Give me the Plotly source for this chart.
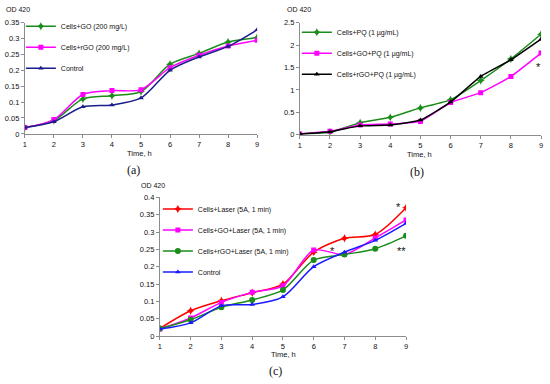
import plotly.graph_objects as go

hours = [1, 2, 3, 4, 5, 6, 7, 8, 9]

# Panel (a)
a_go = [0.020, 0.042, 0.110, 0.120, 0.133, 0.219, 0.253, 0.289, 0.303]
a_rgo = [0.020, 0.045, 0.124, 0.136, 0.139, 0.208, 0.247, 0.276, 0.294]
a_ctrl = [0.020, 0.038, 0.085, 0.091, 0.113, 0.200, 0.242, 0.275, 0.327]

# Panel (b)
b_pq = [0.02, 0.06, 0.27, 0.39, 0.60, 0.78, 1.21, 1.69, 2.24]
b_go_pq = [0.02, 0.08, 0.22, 0.24, 0.30, 0.72, 0.94, 1.30, 1.82]
b_rgo_pq = [0.02, 0.07, 0.20, 0.22, 0.33, 0.73, 1.30, 1.67, 2.13]

# Panel (c)
c_laser = [0.022, 0.073, 0.102, 0.125, 0.150, 0.242, 0.282, 0.293, 0.370]
c_go_laser = [0.020, 0.052, 0.097, 0.126, 0.145, 0.248, 0.235, 0.283, 0.335]
c_rgo_laser = [0.022, 0.047, 0.083, 0.104, 0.133, 0.219, 0.235, 0.252, 0.289]
c_ctrl = [0.020, 0.038, 0.087, 0.091, 0.113, 0.200, 0.242, 0.276, 0.325]

W, H = 550, 384
def px(x):
    return x / W
def py(y):
    return 1 - y / H

FONT = "Liberation Sans, Arial, sans-serif"
SERIF = "Liberation Serif, Times New Roman, serif"
TXT = "#111111"
GREEN = "#1a8c1a"
MAGENTA = "#ff00ff"
NAVY = "#1c1c8c"
BLACK = "#000000"
RED = "#ff0000"
BLUE = "#1a1aff"

fig = go.Figure()

def add(y, name, color, symbol, xa, ya, legend, msize=5, smoothing=0.8):
    fig.add_trace(go.Scatter(
        x=hours, y=y, name=name, mode="lines+markers",
        line=dict(color=color, width=1.5, shape="spline", smoothing=smoothing),
        marker=dict(symbol=symbol, size=msize, color=color),
        xaxis=xa, yaxis=ya, legend=legend, legendgroup=name,
    ))

add(a_go, "Cells+GO (200 mg/L)", GREEN, "star-diamond", "x", "y", "legend", 6)
add(a_rgo, "Cells+rGO (200 mg/L)", MAGENTA, "square", "x", "y", "legend", 5)
add(a_ctrl, "Control", NAVY, "triangle-up", "x", "y", "legend", 5)

add(b_pq, "Cells+PQ (1 µg/mL)", GREEN, "star-diamond", "x2", "y2", "legend2", 6, 0.4)
add(b_go_pq, "Cells+GO+PQ (1 µg/mL)", MAGENTA, "square", "x2", "y2", "legend2", 5, 0.4)
add(b_rgo_pq, "Cells+rGO+PQ (1 µg/mL)", BLACK, "triangle-up", "x2", "y2", "legend2", 5, 0.4)

add(c_laser, "Cells+Laser (5A, 1 min)", RED, "star-diamond", "x3", "y3", "legend3", 6)
add(c_go_laser, "Cells+GO+Laser (5A, 1 min)", MAGENTA, "square", "x3", "y3", "legend3", 5)
add(c_rgo_laser, "Cells+rGO+Laser (5A, 1 min)", GREEN, "circle", "x3", "y3", "legend3", 6)
add(c_ctrl, "Control", BLUE, "triangle-up", "x3", "y3", "legend3", 5)

axis_common = dict(showline=True, linecolor="#8c8c8c", linewidth=1, ticks="outside",
                   ticklen=3, tickcolor="#8c8c8c", showgrid=False, zeroline=False,
                   tickfont=dict(family=FONT, size=7.5, color=TXT))

fig.update_layout(
    width=W, height=H, margin=dict(l=0, r=0, t=0, b=0),
    plot_bgcolor="white", paper_bgcolor="white",
    font=dict(family=FONT, size=7.5, color=TXT),
    xaxis=dict(domain=[px(23), px(257)], range=[1, 9], dtick=1, anchor="y", **axis_common),
    yaxis=dict(domain=[py(133), py(19)], range=[0, 0.35], dtick=0.05, anchor="x", **axis_common),
    xaxis2=dict(domain=[px(300), px(543)], range=[1, 9], dtick=1, anchor="y2", **axis_common),
    yaxis2=dict(domain=[py(134), py(19)], range=[0, 2.5], dtick=0.5, anchor="x2", **axis_common),
    xaxis3=dict(domain=[px(159), px(407)], range=[1, 9], dtick=1, anchor="y3", **axis_common),
    yaxis3=dict(domain=[py(340), py(198)], range=[0, 0.4], dtick=0.05, anchor="x3", **axis_common),
)

leg_common = dict(xref="paper", yref="paper", xanchor="left", yanchor="top",
                  bgcolor="rgba(0,0,0,0)", font=dict(family=FONT, size=7, color=TXT),
                  tracegroupgap=2, itemwidth=30)
fig.update_layout(
    legend=dict(x=px(19), y=py(8), **leg_common),
    legend2=dict(x=px(297), y=py(14), **leg_common),
    legend3=dict(x=px(157), y=py(195), **leg_common),
)

ann = []
def text(x, y, s, size=7.5, family=FONT, xanchor="left"):
    ann.append(dict(x=px(x), y=py(y), xref="paper", yref="paper", text=s, showarrow=False,
                    xanchor=xanchor, yanchor="middle", font=dict(family=family, size=size, color=TXT)))

text(2, 6, "OD 420", 7)
text(285, 6, "OD 420", 7)
text(138, 186, "OD 420", 7)
text(139, 153, "Time, h", xanchor="center")
text(421, 154, "Time, h", xanchor="center")
text(284, 359, "Time, h", xanchor="center")
text(132, 170, "(a)", 12, SERIF, "center")
text(418, 172, "(b)", 12, SERIF, "center")
text(275, 376, "(c)", 12, SERIF, "center")
fig.update_layout(annotations=ann)

# significance marks in data coordinates
star_font = dict(family=FONT, size=11, color=TXT)
fig.add_annotation(x=8.93, y=1.52, xref="x2", yref="y2", text="*", showarrow=False, font=star_font)
fig.add_annotation(x=8.75, y=0.372, xref="x3", yref="y3", text="*", showarrow=False, font=star_font)
fig.add_annotation(x=6.6, y=0.246, xref="x3", yref="y3", text="*", showarrow=False, font=star_font)
fig.add_annotation(x=8.84, y=0.246, xref="x3", yref="y3", text="**", showarrow=False, font=star_font)

fig.write_html("out.html", config={"displayModeBar": False},
               post_script="document.body.style.margin='0';document.body.style.overflow='hidden';")
